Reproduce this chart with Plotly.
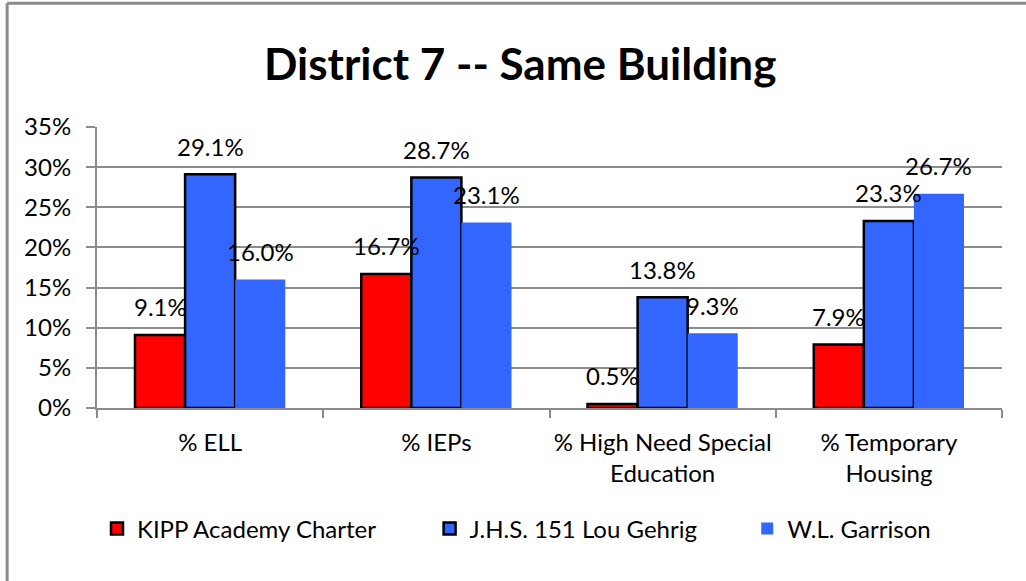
import plotly.graph_objects as go

categories = ["% ELL", "% IEPs", "% High Need Special<br>Education", "% Temporary<br>Housing"]
series_names = ["KIPP Academy Charter", "J.H.S. 151 Lou Gehrig", "W.L. Garrison"]
kipp = [9.1, 16.7, 0.5, 7.9]
jhs151 = [29.1, 28.7, 13.8, 23.3]
garrison = [16.0, 23.1, 9.3, 26.7]
y_ticks = [0, 5, 10, 15, 20, 25, 30, 35]
y_tick_labels = ["0%", "5%", "10%", "15%", "20%", "25%", "30%", "35%"]

series_values = [kipp, jhs151, garrison]
colors = ["#FF0000", "#3366FF", "#3366FF"]
line_widths = [2.5, 2.5, 0]
legend_ids = ["legend", "legend2", "legend3"]
legend_x = [0.0, 0.3675, 0.7185]

FONT = "Lato"
FS = 24
bargap = 0.336

fig = go.Figure()
for name, vals, col, lw, lg in zip(series_names, series_values, colors, line_widths, legend_ids):
    fig.add_trace(go.Bar(
        name=name, x=categories, y=vals, legend=lg,
        marker=dict(color=col, line=dict(color="black", width=lw)),
    ))

# data labels above each bar
w = (1 - bargap) / len(series_values)
for i, vals in enumerate(series_values):
    for k, v in enumerate(vals):
        fig.add_annotation(
            x=k + (i - 1) * w, y=v, xref="x", yref="y",
            text=f"{v:.1f}%", showarrow=False, yshift=28,
            yanchor="middle", xanchor="center",
            font=dict(family=FONT, size=FS, color="black"),
        )

# outer frame (left and top edges visible)
fig.add_shape(type="line", xref="paper", yref="paper",
              x0=-0.0993, x1=-0.0993, y0=-0.62, y1=1.44,
              line=dict(color="#8c8c8c", width=3))
fig.add_shape(type="line", xref="paper", yref="paper",
              x0=-0.0993, x1=1.03, y0=1.44, y1=1.44,
              line=dict(color="#8c8c8c", width=3))

legend_style = dict(orientation="h", xanchor="left", xref="paper",
                    y=-0.43, yanchor="middle", bgcolor="rgba(0,0,0,0)",
                    font=dict(family=FONT, size=FS, color="black"))

fig.update_layout(
    width=1026, height=581, autosize=False,
    paper_bgcolor="white", plot_bgcolor="white",
    margin=dict(l=97, r=24, t=127, b=173),
    barmode="group", bargap=bargap, bargroupgap=0,
    title=dict(text="<b>District 7 -- Same Building</b>", x=0.507, xref="container",
               y=0.888, yref="container", yanchor="middle",
               font=dict(family=FONT, size=44, color="black")),
    font=dict(family=FONT, color="black"),
    showlegend=True,
    legend=dict(x=legend_x[0], **legend_style),
    legend2=dict(x=legend_x[1], **legend_style),
    legend3=dict(x=legend_x[2], **legend_style),
)
fig.update_xaxes(
    type="category", showline=True, linecolor="#8c8c8c", linewidth=2,
    ticks="outside", tickson="boundaries", ticklen=8, tickcolor="#8c8c8c", tickwidth=2,
    ticklabelstandoff=12, tickangle=0, automargin=False,
    tickfont=dict(family=FONT, size=FS, color="black"), showgrid=False,
)
fig.update_yaxes(
    range=[0, 35], tickvals=y_ticks, ticktext=y_tick_labels,
    showline=True, linecolor="#8c8c8c", linewidth=2,
    ticks="outside", ticklen=9, tickcolor="#8c8c8c", tickwidth=2,
    ticklabelstandoff=10, automargin=False,
    showgrid=True, gridcolor="#8c8c8c", gridwidth=2, zeroline=False,
    tickfont=dict(family=FONT, size=FS, color="black"),
)

fig.write_html("out.html", config={"displayModeBar": False},
               post_script="document.body.style.margin='0';")
